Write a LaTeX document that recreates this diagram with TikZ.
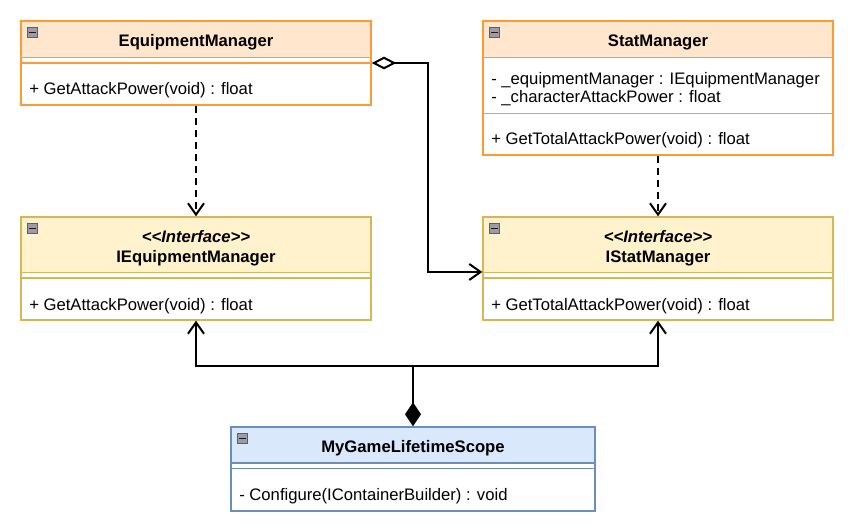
\documentclass[tikz,border=0pt]{standalone}
\usepackage{fontspec}
\setmainfont{Liberation Sans}
\usetikzlibrary{fit,arrows.meta}
\definecolor{orfill}{HTML}{FFE6CC}
\definecolor{orline}{HTML}{FF9933}
\definecolor{yefill}{HTML}{FFF2CC}
\definecolor{yeline}{HTML}{D6B656}
\definecolor{blfill}{HTML}{DAE8FC}
\definecolor{blline}{HTML}{6C8EBF}
\definecolor{icfill}{HTML}{9C9CA6}
\definecolor{icline}{HTML}{5E5E66}
\begin{document}
\begin{tikzpicture}[x=0.75pt,y=-0.75pt,
  font=\fontsize{12.5}{15}\selectfont,
  classbox/.style={inner sep=0pt, line width=1pt},
  sepline/.style={line width=1pt},
  title/.style={anchor=base, inner sep=0pt, font=\fontsize{12.5}{15}\selectfont\bfseries},
  stereo/.style={anchor=base, inner sep=0pt, font=\fontsize{12.5}{15}\selectfont\bfseries\itshape},
  member/.style={anchor=base west, inner sep=0pt},
  icon/.style={minimum size=7.8pt, inner sep=0pt, fill=icfill, draw=icline, line width=0.6pt,
    path picture={\draw[line width=1.3pt, black!90] ([xshift=1.5pt]path picture bounding box.west) -- ([xshift=-1.5pt]path picture bounding box.east);}},
  conn/.style={line width=1.5pt, black},
  openhead/.style={-{Straight Barb[length=8.5pt,width=12pt]}},
  dep/.style={conn, dash pattern=on 5.25pt off 3.75pt, openhead}
]
\useasboundingbox (0,0) rectangle (854,532);
\fill[white] (0,0) rectangle (854,532);

% EquipmentManager
\fill[orfill] (21,21) rectangle (371,57.5);
\node[classbox, draw=orline, fit={(21,21) (371,105)}] (em) {};
\draw[sepline, orline] (21,57.5) -- (371,57.5);
\draw[sepline, orline] (21,63) -- (371,63);
\node[icon] (emic) at (32.5,32.5) {};
\node[title] (emt) at (196,46.5) {EquipmentManager};
\node[member] (em1) at (29,94) {+ GetAttackPower(void) : float};

% StatManager
\fill[orfill] (483,21) rectangle (833,57.5);
\node[classbox, draw=orline, fit={(483,21) (833,155)}] (sm) {};
\draw[sepline, orline] (483,57.5) -- (833,57.5);
\draw[sepline, orline] (483,113.5) -- (833,113.5);
\node[icon] (smic) at (494.5,32.5) {};
\node[title] (smt) at (658,46.5) {StatManager};
\node[member] (sm1) at (491,84) {- \_equipmentManager : IEquipmentManager};
\node[member] (sm2) at (491,102) {- \_characterAttackPower : float};
\node[member] (sm3) at (491,144) {+ GetTotalAttackPower(void) : float};

% IEquipmentManager
\fill[yefill] (21,217) rectangle (371,272.5);
\node[classbox, draw=yeline, fit={(21,217) (371,320)}] (iem) {};
\draw[sepline, yeline] (21,272.5) -- (371,272.5);
\draw[sepline, yeline] (21,278) -- (371,278);
\node[icon] (iemic) at (32.5,228.5) {};
\node[stereo] (iems) at (196,242) {<\kern0pt<Interface>\kern0pt>};
\node[title] (iemt) at (196,262.5) {IEquipmentManager};
\node[member] (iem1) at (29,310) {+ GetAttackPower(void) : float};

% IStatManager
\fill[yefill] (483,217) rectangle (833,272.5);
\node[classbox, draw=yeline, fit={(483,217) (833,320)}] (ism) {};
\draw[sepline, yeline] (483,272.5) -- (833,272.5);
\draw[sepline, yeline] (483,278) -- (833,278);
\node[icon] (ismic) at (494.5,228.5) {};
\node[stereo] (isms) at (658,242) {<\kern0pt<Interface>\kern0pt>};
\node[title] (ismt) at (658,262.5) {IStatManager};
\node[member] (ism1) at (491,310) {+ GetTotalAttackPower(void) : float};

% MyGameLifetimeScope
\fill[blfill] (231,427) rectangle (595,463);
\node[classbox, draw=blline, fit={(231,427) (595,511)}] (mg) {};
\draw[sepline, blline] (231,463) -- (595,463);
\draw[sepline, blline] (231,468.5) -- (595,468.5);
\node[icon] (mgic) at (242.5,438.5) {};
\node[title] (mgt) at (413,452.5) {MyGameLifetimeScope};
\node[member] (mg1) at (239,500) {- Configure(IContainerBuilder) : void};

% connectors
\draw[dep] (em.south) -- (iem.north);
\draw[dep] (sm.south) -- (ism.north);

\coordinate (aggturn) at (427.5,63);
\coordinate (ismin) at ([yshift=-2.6pt]ism.west);
\draw[conn, {Diamond[open,length=18.5pt,width=9.5pt]}-{Straight Barb[length=8.5pt,width=12pt]}]
  (em.east) -- (aggturn) |- (ismin);

\coordinate (junc) at (413,366);
\draw[conn, {Diamond[length=18pt,width=12pt]}-] (mg.north) -- (junc);
\draw[conn, openhead] (junc) -| (iem.south);
\draw[conn, openhead] (junc) -| (ism.south);
\end{tikzpicture}
\end{document}
